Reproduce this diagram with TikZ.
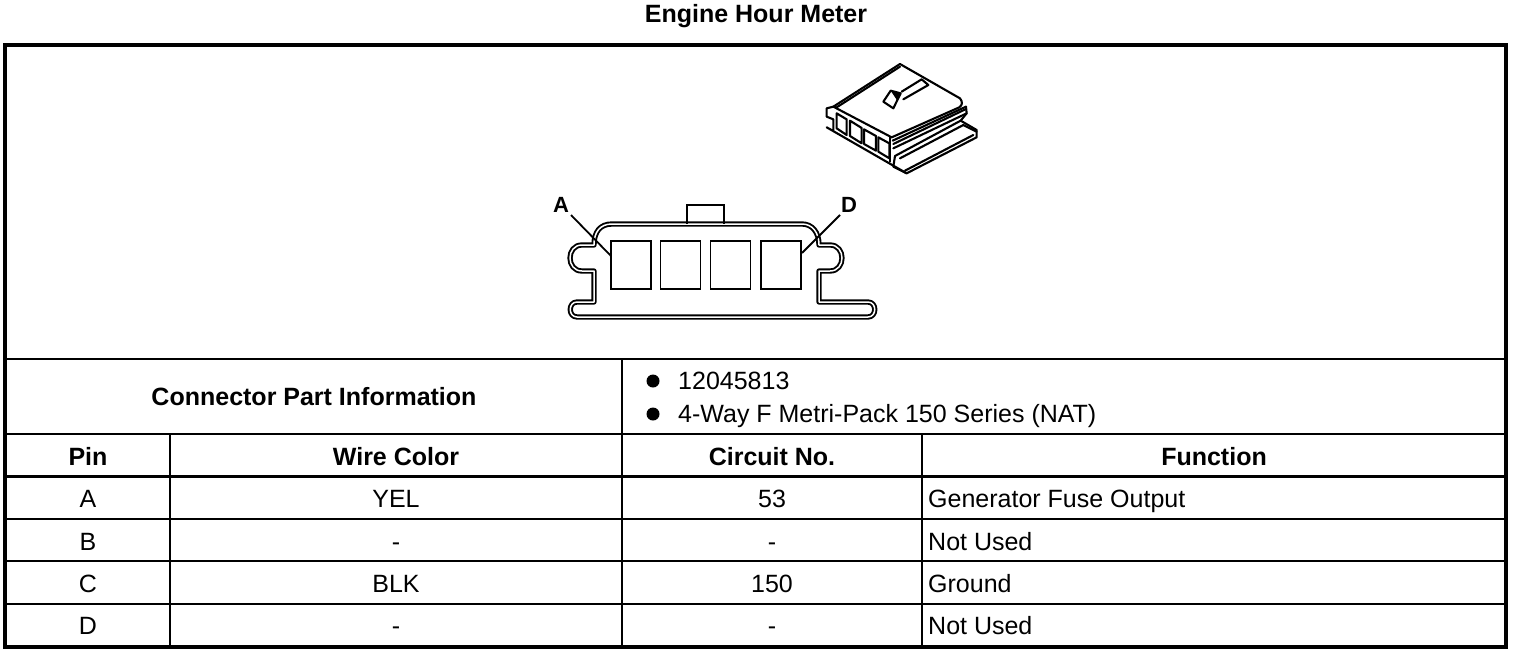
\documentclass[tikz,border=0pt]{standalone}
\usepackage{fontspec}
\setmainfont{Liberation Sans}
\tikzset{
	cell/.style={font=\fontsize{25}{30}\selectfont, inner sep=0pt, anchor=base},
	cellleft/.style={cell, anchor=base west},
	head/.style={cell, font=\fontsize{25}{30}\selectfont\bfseries},
	frameline/.style={line width=3.5pt},
	thickrule/.style={line width=3pt},
	thinrule/.style={line width=1.6pt},
	pinlabel/.style={font=\fontsize{22}{26}\selectfont\bfseries, inner sep=0pt},
	shell/.style={line width=1.9pt, double, double distance=1.5pt, line join=round},
	window/.style={draw, line width=1.8pt, minimum width=40pt, minimum height=48pt, inner sep=0pt},
	leader/.style={line width=1.8pt},
	sketch/.style={line width=2.1pt, line join=round, line cap=round}
}
\begin{document}
\begin{tikzpicture}[x=1pt, y=-1pt]
	\useasboundingbox (0,0) rectangle (1520,654);
	\node[head] (title) at (756,22) {Engine Hour Meter};
	\draw[frameline] (5,45) rectangle (1506,647);
	\draw[thinrule] (5,359)--(1506,359);
	\draw[thinrule] (5,434)--(1506,434);
	\draw[thickrule] (5,476)--(1506,476);
	\draw[thinrule] (5,519)--(1506,519);
	\draw[thinrule] (5,561)--(1506,561);
	\draw[thinrule] (5,604)--(1506,604);
	\draw[thinrule] (170,434)--(170,647);
	\draw[thinrule] (622,359)--(622,647);
	\draw[thinrule] (922,434)--(922,647);
	\node[head] (partinfo) at (314,405) {Connector Part Information};
	\fill (653,381) circle (6.5pt);
	\fill (653,414) circle (6.5pt);
	\node[cellleft] (partno) at (678,389.5) {12045813};
	\node[cellleft] (series) at (678,422.5) {4-Way F Metri-Pack 150 Series (NAT)};
	\node[head] (pinhead) at (88,465) {Pin};
	\node[head] (colorhead) at (396,465) {Wire Color};
	\node[head] (circuithead) at (772,465) {Circuit No.};
	\node[head] (functionhead) at (1214,465) {Function};
	\node[cell] (pinA) at (88,507) {A};
	\node[cell] (colorA) at (396,507) {YEL};
	\node[cell] (circuitA) at (772,507) {53};
	\node[cellleft] (functionA) at (928,507) {Generator Fuse Output};
	\node[cell] (pinB) at (88,550) {B};
	\node[cell] (colorB) at (396,550) {-};
	\node[cell] (circuitB) at (772,550) {-};
	\node[cellleft] (functionB) at (928,550) {Not Used};
	\node[cell] (pinC) at (88,592) {C};
	\node[cell] (colorC) at (396,592) {BLK};
	\node[cell] (circuitC) at (772,592) {150};
	\node[cellleft] (functionC) at (928,592) {Ground};
	\node[cell] (pinD) at (88,634) {D};
	\node[cell] (colorD) at (396,634) {-};
	\node[cell] (circuitD) at (772,634) {-};
	\node[cellleft] (functionD) at (928,634) {Not Used};
	\draw[shell] (594,245)..controls (594,232) and (600,224)..(612,224)--(802,224)..controls (812,224) and (819,232)..(819,245)
		--(830,245)..controls (846,245) and (846,271)..(830,271)--(819,271)--(819,302)--(868,302)
		..controls (877,302) and (877,317)..(868,317)--(577,317)..controls (568,317) and (568,302)..(577,302)
		--(594,302)--(594,271)--(582,271)..controls (566,271) and (566,245)..(582,245)--cycle;
	\draw[line width=2.6pt] (687,224)--(687,205)--(724,205)--(724,224);
	\node[window] (winA) at (631,265) {};
	\node[window] (winB) at (680.5,265) {};
	\node[window] (winC) at (730.5,265) {};
	\node[window] (winD) at (781,265) {};
	\node[pinlabel] (lblA) at (561,205) {A};
	\node[pinlabel] (lblD) at (849,205) {D};
	\coordinate (tipA) at (611,256);
	\coordinate (tipD) at (802,253);
	\draw[leader] (lblA)++(10,10)--(tipA);
	\draw[leader] (lblD)++(-9,10)--(tipD);
	\begin{scope}[shift={(800,50)}, x=0.3333pt, y=-0.3333pt, sketch]
		\draw (100,170)--(300,42)--(480,145)..controls (488,155) and (488,165)..(478,172)--(275,262)--(100,170);
		\draw (110,172)--(300,50);
		\draw (100,170)--(80,175)--(80,200)--(100,208)--(100,243)--(80,232)--(320,370)--(530,262)--(530,240)--(482,212);
		\draw (270,262)--(270,335);
		\draw (110,190)--(140,208)--(140,255)--(110,235)--cycle;
		\draw (150,212)--(185,234)--(185,280)--(150,258)--cycle;
		\draw (192,238)--(228,258)--(228,302)--(192,282)--cycle;
		\draw (235,262)--(268,280)--(268,325)--(235,305)--cycle;
		\draw (278,272)--(498,170)--(500,190)--(482,212)--(285,318);
		\draw (280,282)--(496,178);
		\draw (280,295)--(500,190);
		\draw (285,318)--(280,350)--(320,370);
		\draw (250,155)--(272,122)--(302,130)--(280,175)--cycle;
		\fill (272,122)--(302,130)--(292,152)--cycle;
		\draw (305,125)--(365,88)--(385,105)--(310,148);
		\draw (300,325)--(490,225)--(530,245);
		\draw (315,362)--(520,255);
	\end{scope}
\end{tikzpicture}
\end{document}
